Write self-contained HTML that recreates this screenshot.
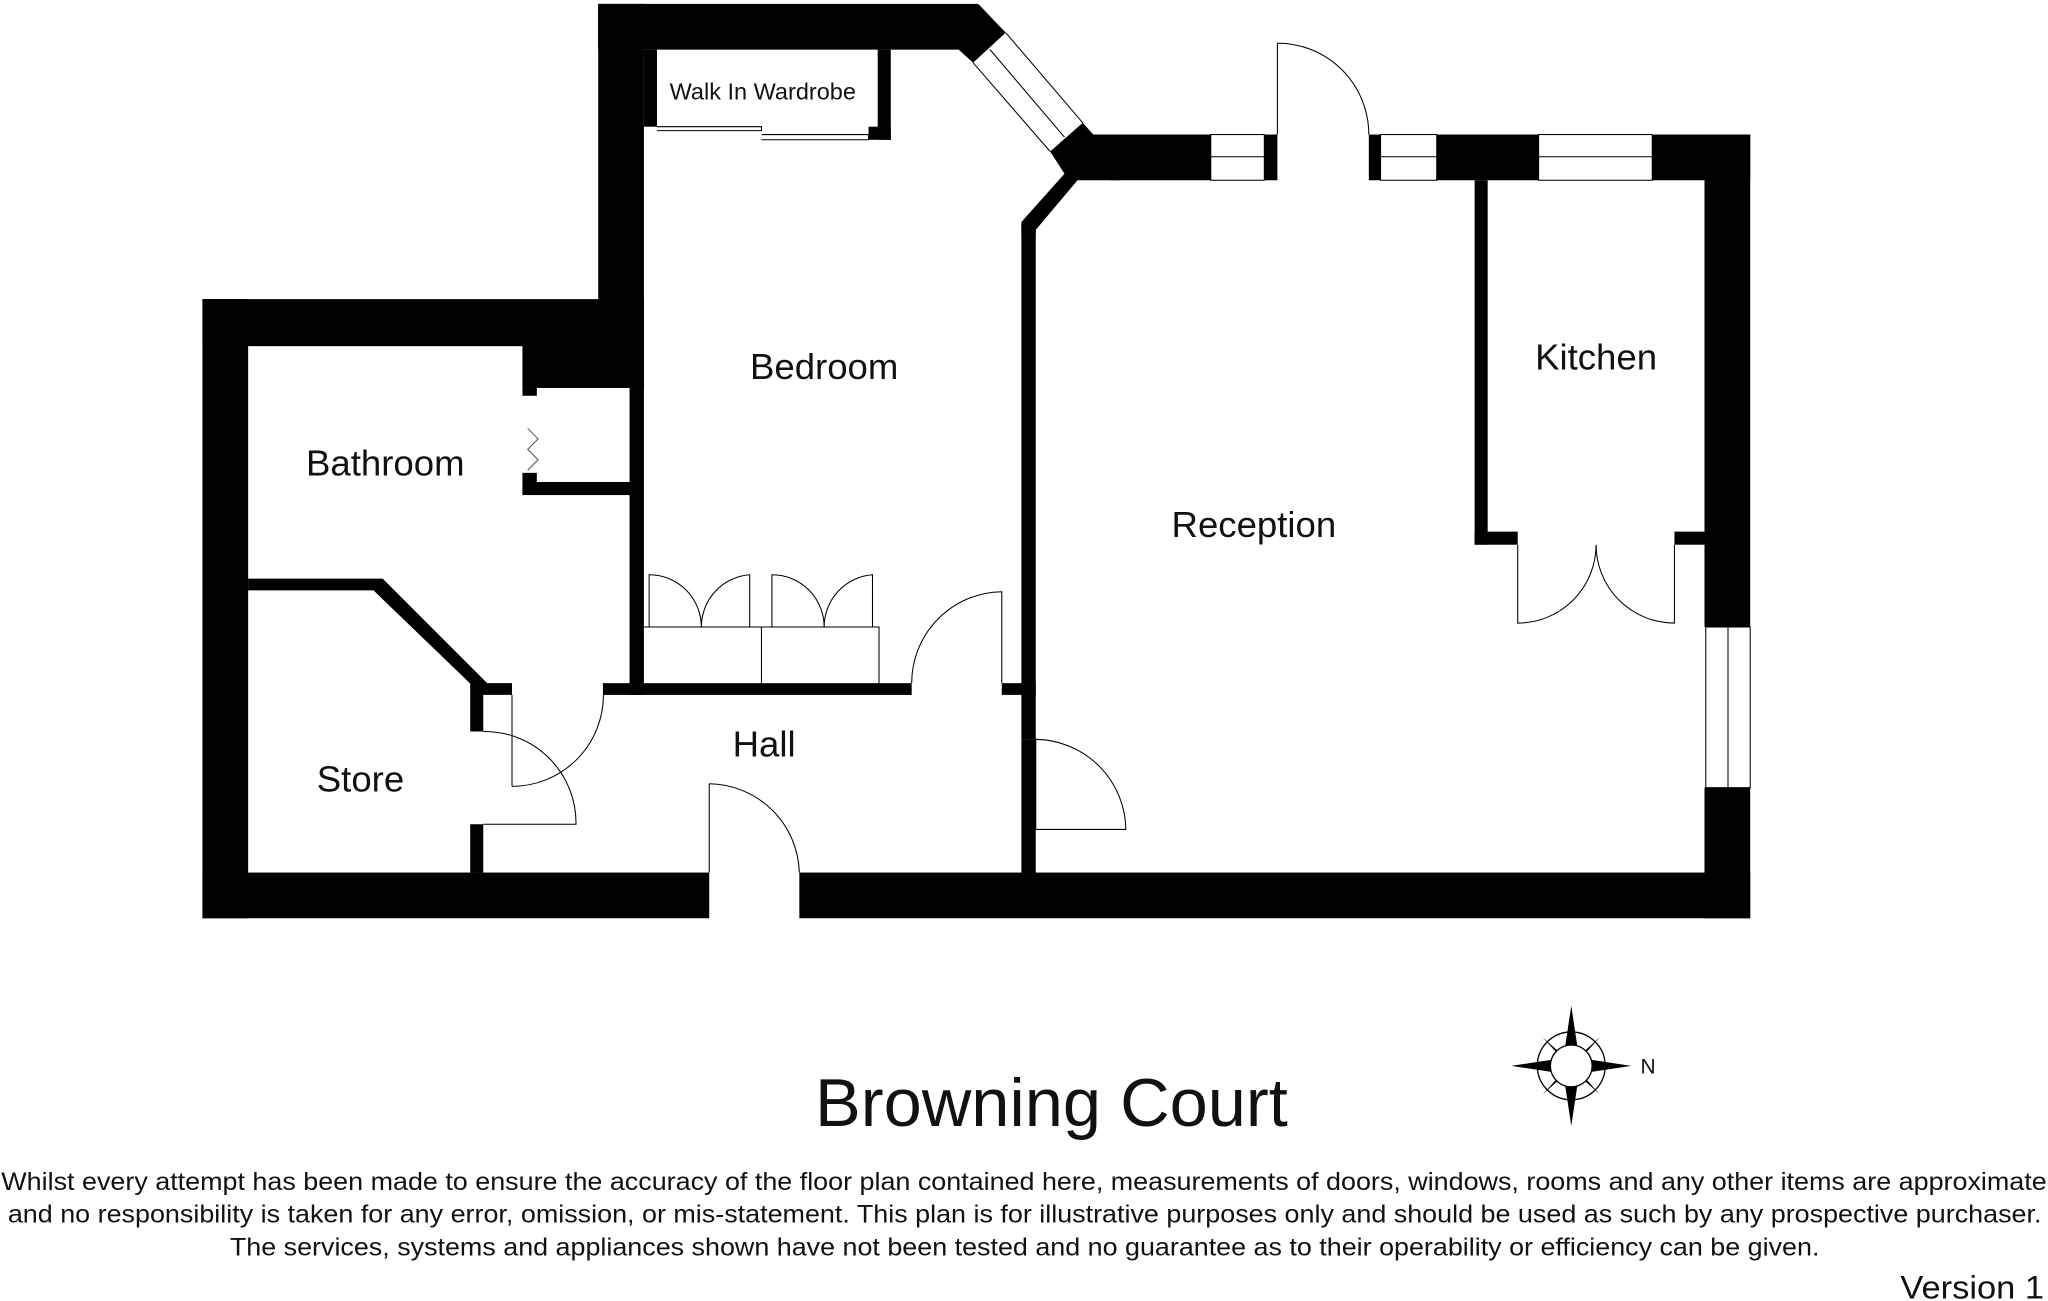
<!DOCTYPE html>
<html><head><meta charset="utf-8"><style>
html,body{margin:0;padding:0;background:#fff;width:2048px;height:1301px;overflow:hidden}
svg{display:block}
text{font-family:"Liberation Sans",Arial,sans-serif;fill:#111}
</style></head><body>
<svg width="2048" height="1301" viewBox="0 0 1568 996" preserveAspectRatio="none" xmlns="http://www.w3.org/2000/svg">
<g fill="#000">
<rect x="155" y="229" width="35" height="474"/>
<rect x="155" y="229" width="338" height="36"/>
<rect x="458" y="3" width="35" height="262"/>
<rect x="400" y="264" width="93" height="33"/>
<rect x="400" y="297" width="11" height="6"/>
<rect x="400" y="362" width="11" height="16"/>
<rect x="400" y="369" width="84" height="10"/>
<rect x="482" y="264" width="11" height="268"/>
<polygon points="458,3 749,3 770,25 745,48 734,38 458,38"/>
<polygon points="804,116 829,94 837,103 858,103 858,138 825,138 793,176 793,180 782,180 782,170 815,133"/>
<rect x="850" y="103" width="77" height="35"/>
<rect x="968" y="103" width="10" height="35"/>
<rect x="1048" y="103" width="9" height="35"/>
<rect x="1100" y="103" width="78" height="35"/>
<rect x="1265" y="103" width="75" height="35"/>
<rect x="1305" y="103" width="35" height="377"/>
<rect x="1305" y="603" width="35" height="100"/>
<rect x="155" y="668" width="388" height="35"/>
<rect x="612" y="668" width="728" height="35"/>
<rect x="782" y="172" width="11" height="394"/>
<rect x="782" y="566" width="11" height="104"/>
<rect x="767" y="523" width="26" height="9"/>
<rect x="1129" y="138" width="10" height="279"/>
<rect x="1129" y="407" width="33" height="10"/>
<rect x="1282" y="407" width="23" height="10"/>
<polygon points="190,443 293,443 373,523 392,523 392,532 369,532 286,452 190,452"/>
<rect x="360" y="523" width="10" height="37"/>
<rect x="360" y="631" width="10" height="37"/>
<rect x="462" y="523" width="236" height="9"/>
<rect x="493" y="38" width="10" height="59"/>
<rect x="672" y="38" width="10" height="69"/>
<rect x="665" y="97" width="17" height="10"/>
</g>
<g fill="none" stroke="#000" stroke-width="0.8">
<line x1="745" y1="48" x2="804" y2="116"/><line x1="758" y1="38" x2="815" y2="105"/><line x1="770" y1="25" x2="829" y2="94"/>
<rect x="927" y="103" width="41" height="35"/><line x1="927" y1="120" x2="968" y2="120"/>
<rect x="1057" y="103" width="43" height="35"/><line x1="1057" y1="120" x2="1100" y2="120"/>
<rect x="1178" y="103" width="87" height="35"/><line x1="1178" y1="120" x2="1265" y2="120"/>
<rect x="1306" y="480" width="34" height="123"/><line x1="1323" y1="480" x2="1323" y2="603"/>
<path d="M978 33 L978 103 M978 33 A70 70 0 0 1 1048 103"/>
<path d="M503 97 L583 97 L583 100 L503 100 M583 103 L665 103 L665 107 L583 107"/>
<path d="M1162 417 L1162 477 A60 60 0 0 0 1222 417 M1282 417 L1282 477 A60 60 0 0 1 1222 417"/>
<path d="M493 480 L673 480 L673 523 M583 480 L583 523"/>
<path d="M497 480 L497 440 A40 40 0 0 1 537 480 M574 480 L574 440 A40 40 0 0 0 537 480"/>
<path d="M591 480 L591 440 A40 40 0 0 1 631 480 M668 480 L668 440 A40 40 0 0 0 631 480"/>
<path d="M767 523 L767 453 A70 70 0 0 0 698 523"/>
<path d="M392 532 L392 602 M392 602 A70 70 0 0 0 462 532 L462 523"/>
<path d="M370 631 L441 631 A70 70 0 0 0 370 560"/>
<path d="M793 566 L793 635 L862 635 A70 70 0 0 0 793 566"/>
<path d="M543 600 L543 668 M543 600 A70 70 0 0 1 612 668"/>
<polyline stroke="#555" points="404,328 412,336 404,344 412,352 404,360"/>
</g>
<text x="584" y="76" font-size="18" text-anchor="middle">Walk In Wardrobe</text>
<text x="631" y="290" font-size="28" text-anchor="middle">Bedroom</text>
<text x="295" y="364" font-size="28" text-anchor="middle">Bathroom</text>
<text x="1222" y="283" font-size="28" text-anchor="middle">Kitchen</text>
<text x="960" y="411" font-size="28" text-anchor="middle">Reception</text>
<text x="585" y="579" font-size="28" text-anchor="middle">Hall</text>
<text x="276" y="606" font-size="28" text-anchor="middle">Store</text>
<g transform="translate(1203,816)">
<polygon points="0,-46 6,-6 0,0 -6,-6" fill="#000"/>
<polygon points="0,46 6,6 0,0 -6,6" fill="#000"/>
<polygon points="46,0 6,6 0,0 6,-6" fill="#000"/>
<polygon points="-46,0 -6,6 0,0 -6,-6" fill="#000"/>
<polygon points="22,-22 4,-2 0,0 2,-4" fill="#000"/>
<polygon points="-22,22 -4,2 0,0 -2,4" fill="#000"/>
<polygon points="22,22 2,4 0,0 4,2" fill="#000"/>
<polygon points="-22,-22 -2,-4 0,0 -4,-2" fill="#000"/>
<circle r="26" fill="none" stroke="#000" stroke-width="1"/>
<circle r="16" fill="#fff" stroke="#000" stroke-width="1"/>
</g>
<text x="1256" y="822" font-size="16">N</text>
<text x="805" y="862" font-size="52" text-anchor="middle" textLength="362" lengthAdjust="spacingAndGlyphs">Browning Court</text>
<text x="1" y="911" font-size="19" textLength="1566" lengthAdjust="spacingAndGlyphs">Whilst every attempt has been made to ensure the accuracy of the floor plan contained here, measurements of doors, windows, rooms and any other items are approximate</text>
<text x="6" y="936" font-size="19" textLength="1557" lengthAdjust="spacingAndGlyphs">and no responsibility is taken for any error, omission, or mis-statement. This plan is for illustrative purposes only and should be used as such by any prospective purchaser.</text>
<text x="176" y="961" font-size="19" textLength="1217" lengthAdjust="spacingAndGlyphs">The services, systems and appliances shown have not been tested and no guarantee as to their operability or efficiency can be given.</text>
<text x="1565" y="994" font-size="25" text-anchor="end" textLength="110" lengthAdjust="spacingAndGlyphs">Version 1</text>
</svg>
</body></html>
